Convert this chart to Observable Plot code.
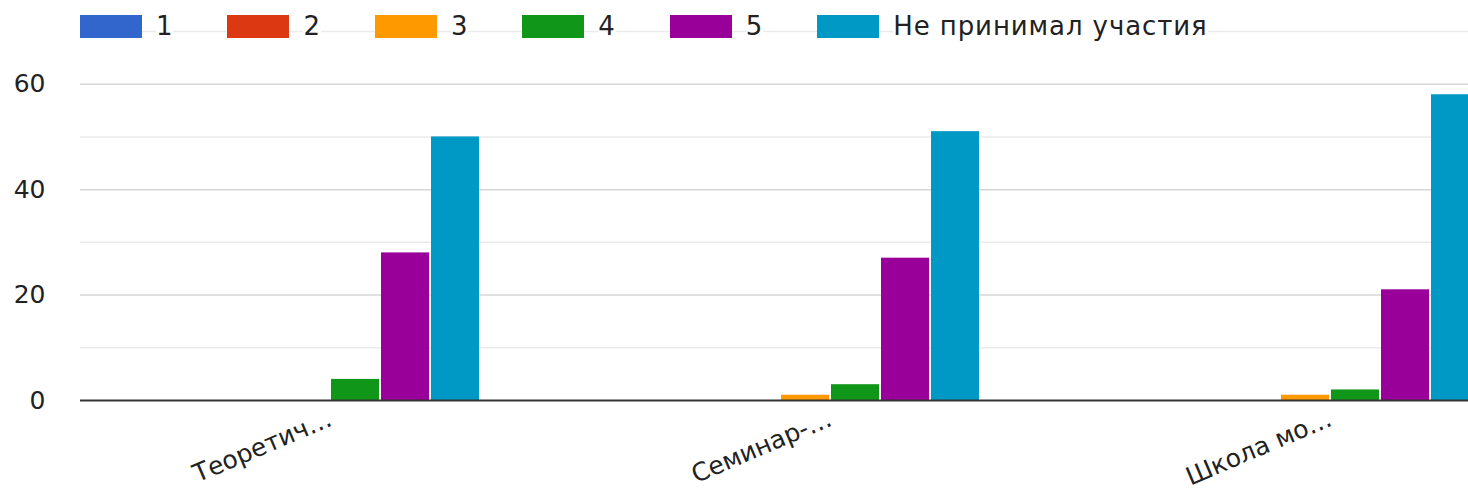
<!DOCTYPE html>
<html>
<head>
<meta charset="utf-8">
<script src="https://cdn.jsdelivr.net/npm/d3@7"></script>
<script src="https://cdn.jsdelivr.net/npm/@observablehq/plot@0.6"></script>
<style>
  html, body { margin: 0; padding: 0; background: #fff; overflow: hidden; }
  #wrap { position: relative; width: 1468px; height: 493px; overflow: hidden; }
  #chart svg { max-width: none !important; }
  #legend { position: absolute; left: 80px; top: 15px; display: flex; align-items: center;
            font-family: "DejaVu Sans", sans-serif; font-size: 26px; letter-spacing: 0.9px; color: #222; }
  .item { display: flex; align-items: center; margin-right: 54px; }
  .sw { width: 62px; height: 23px; margin-right: 14px; }
  .lab { background: #fff; line-height: 23px; }
</style>
</head>
<body>
<div id="wrap"><div id="chart"></div><div id="legend"></div></div>
<script>
const categories = ["Теоретич…", "Семинар-…", "Школа мо…"];
const series = ["1", "2", "3", "4", "5", "Не принимал участия"];
const colors = ["#3366cc", "#dc3912", "#ff9900", "#109618", "#990099", "#0099c6"];
const values1 = [0, 0, 0];
const values2 = [0, 0, 0];
const values3 = [0, 1, 1];
const values4 = [4, 3, 2];
const values5 = [28, 27, 21];
const valuesNone = [50, 51, 58];
const yTickLabels = [0, 20, 40, 60];
const yMinorGrid = [10, 30, 50, 70];

const allValues = [values1, values2, values3, values4, values5, valuesNone];
const data = [];
categories.forEach((c, ci) => {
  series.forEach((s, si) => data.push({category: c, series: s, value: allValues[si][ci]}));
});

const chart = Plot.plot({
  width: 1580,
  height: 493,
  marginLeft: 80,
  marginRight: 0,
  marginTop: 31,
  marginBottom: 93,
  style: {fontFamily: "DejaVu Sans, sans-serif", fontSize: "25px", color: "#222", background: "#fff", maxWidth: "none"},
  fx: {domain: categories, padding: 0, label: null, axis: "bottom", tickSize: 0, tickRotate: -23, tickPadding: 17},
  x: {domain: series, axis: null, paddingInner: 0.04, paddingOuter: 2},
  y: {domain: [0, 70], ticks: yTickLabels, tickSize: 0, tickPadding: 35, label: null},
  color: {domain: series, range: colors},
  marks: [
    Plot.ruleY(yMinorGrid, {stroke: "#ebebeb", strokeWidth: 1.5}),
    Plot.ruleY(yTickLabels.filter(d => d !== 0), {stroke: "#d6d6d6", strokeWidth: 1.5}),
    Plot.barY(data, {fx: "category", x: "series", y: "value", fill: "series"}),
    Plot.ruleY([0], {stroke: "#333", strokeWidth: 2})
  ]
});
chart.style.maxWidth = "none";
document.getElementById("chart").appendChild(chart);

const legend = document.getElementById("legend");
series.forEach((s, i) => {
  const it = document.createElement("div");
  it.className = "item";
  const sw = document.createElement("div");
  sw.className = "sw";
  sw.style.background = colors[i];
  const lab = document.createElement("span");
  lab.className = "lab";
  lab.textContent = s;
  it.appendChild(sw);
  it.appendChild(lab);
  legend.appendChild(it);
});
</script>
</body>
</html>
